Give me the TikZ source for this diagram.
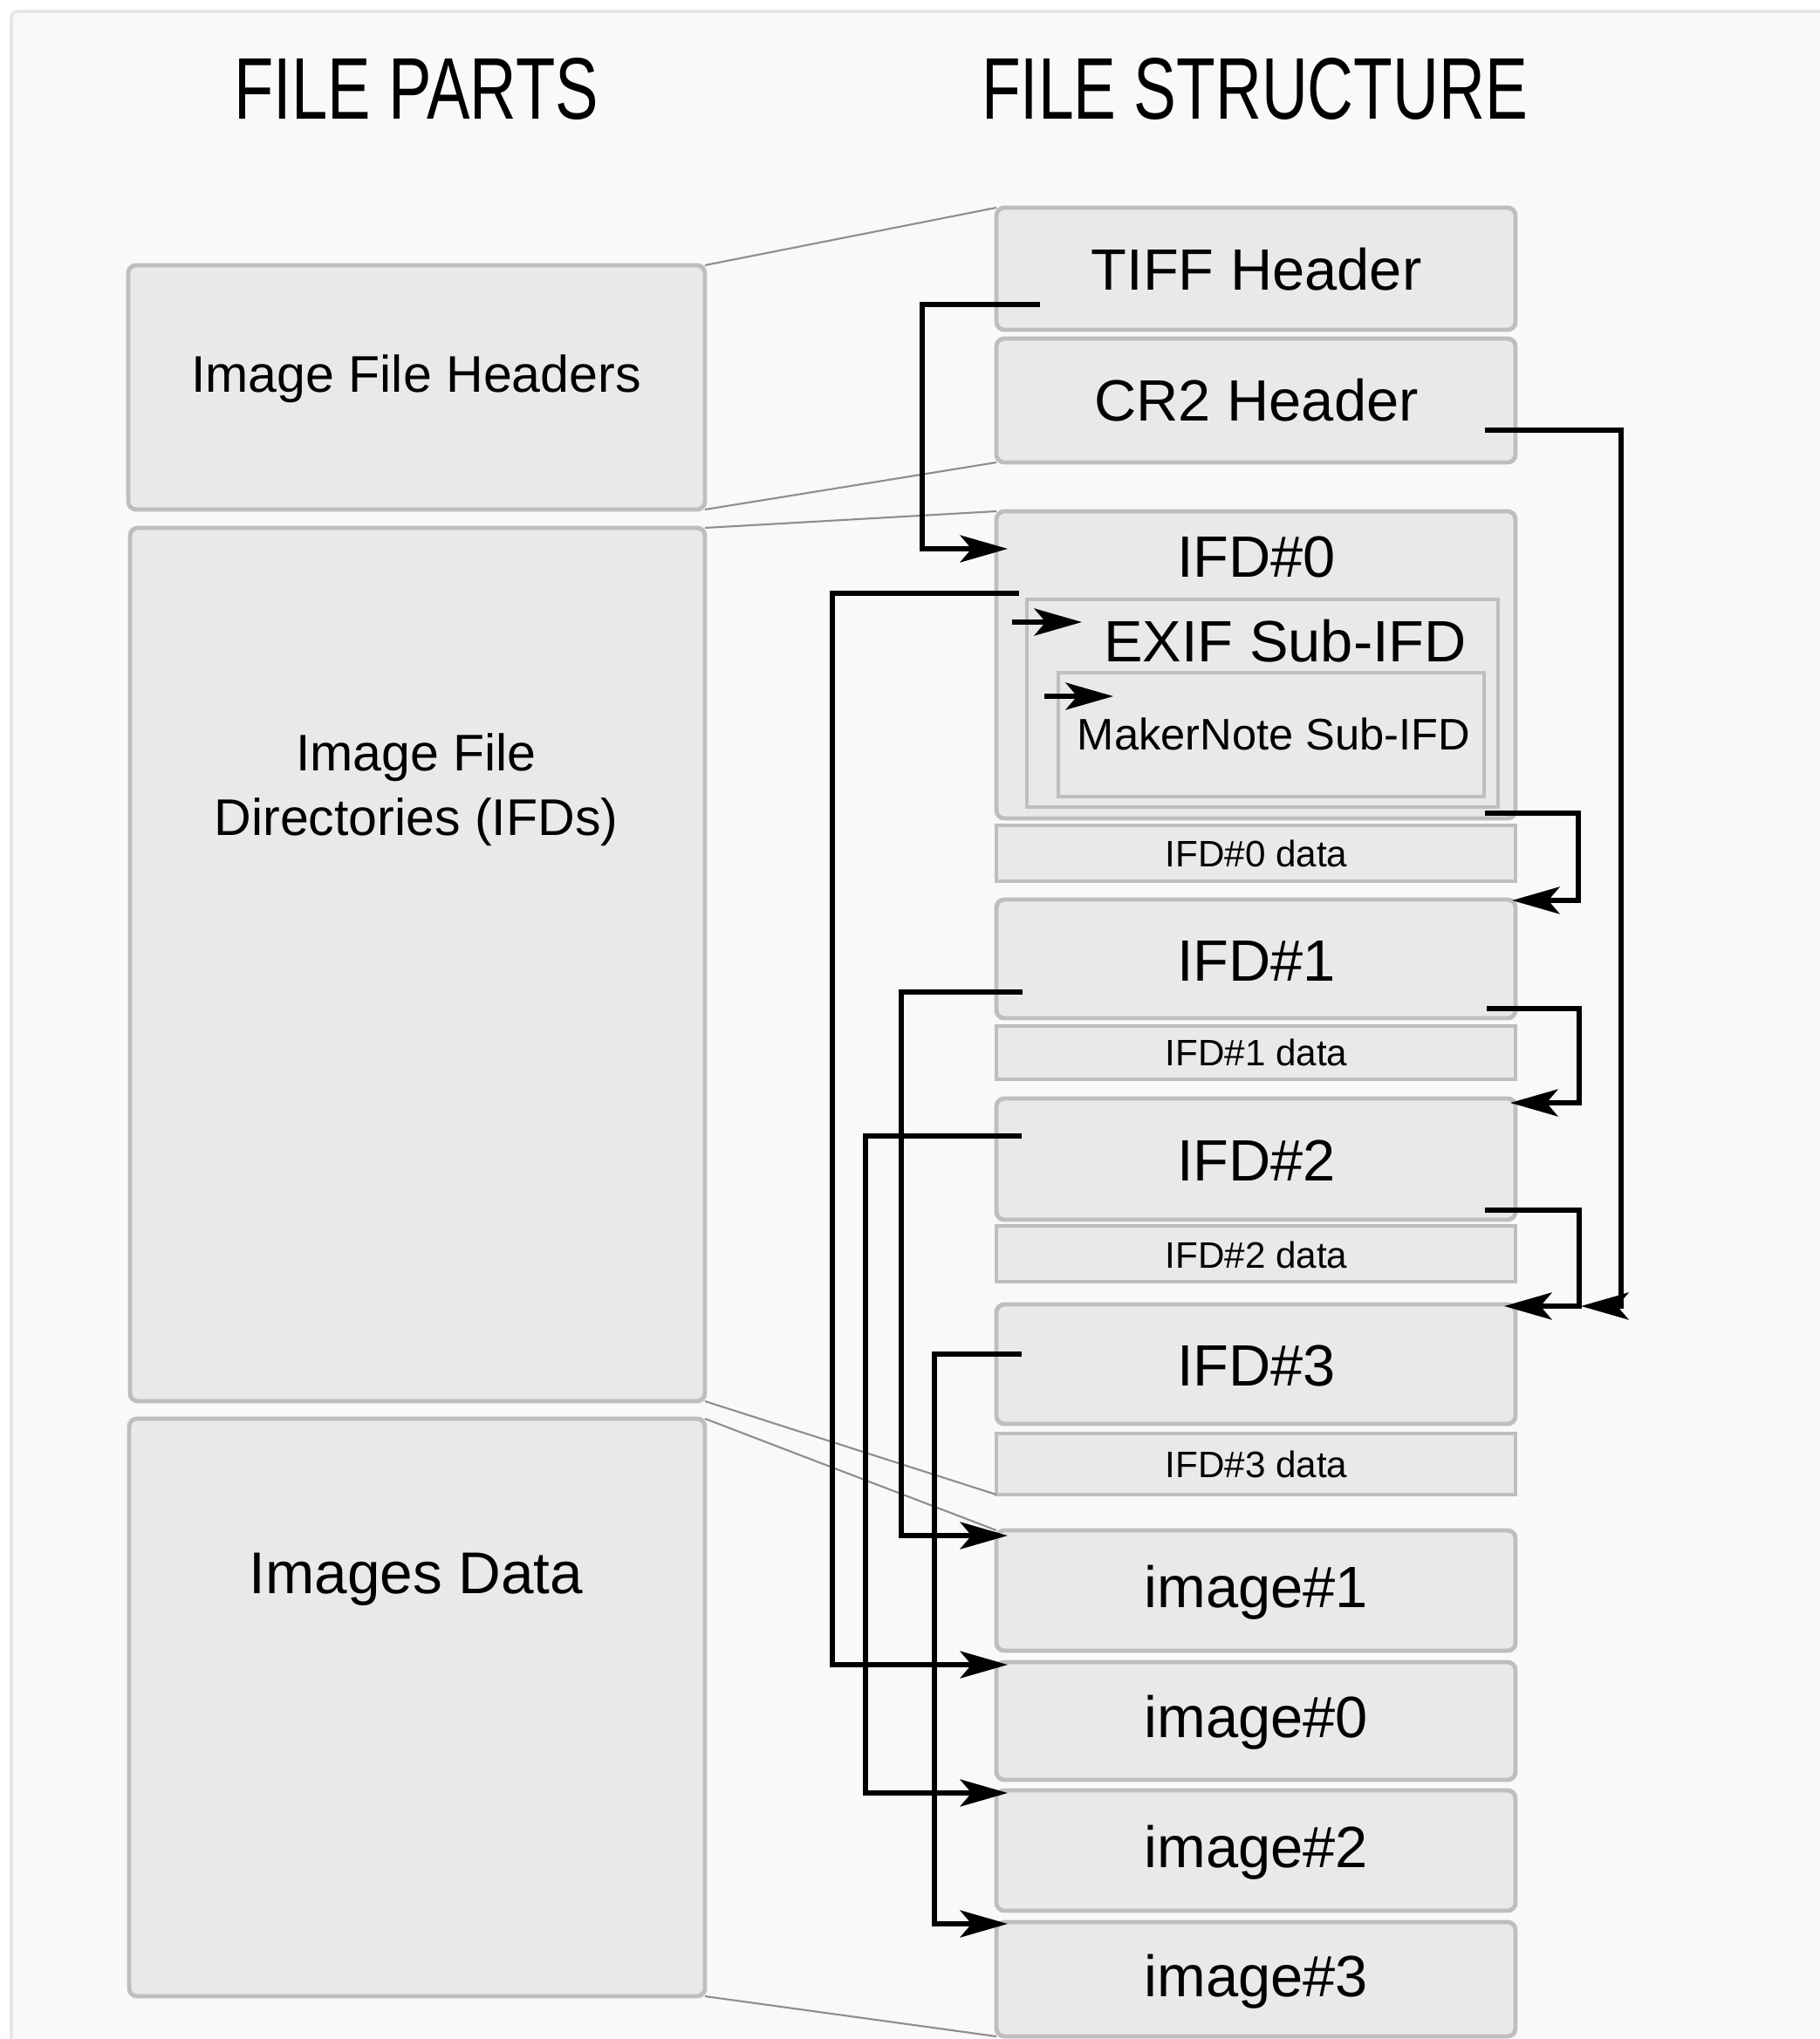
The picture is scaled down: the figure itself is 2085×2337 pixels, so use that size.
\documentclass[tikz,border=0pt]{standalone}
\usepackage{fontspec}
\setmainfont{Liberation Sans}
\usepackage{graphicx}
\usetikzlibrary{arrows.meta,fit}
\definecolor{panelbg}{HTML}{F9F9F9}
\definecolor{panelline}{HTML}{E4E4E4}
\definecolor{boxfill}{HTML}{E9E9E9}
\definecolor{boxline}{HTML}{BEBEBE}
\definecolor{zoomline}{HTML}{8E8E8E}
\begin{document}
\begin{tikzpicture}[x=0.01cm,y=-0.01cm,
  box/.style={draw=boxline, fill=boxfill, line width=1.4pt, rounded corners=2.6pt, inner sep=0pt, outer sep=0pt},
  sqbox/.style={draw=boxline, fill=boxfill, line width=1.4pt, sharp corners, inner sep=0pt, outer sep=0pt},
  lbl/.style={anchor=base, inner sep=0pt, font=\fontsize{19}{23}\selectfont},
  lblleft/.style={anchor=base, inner sep=0pt, font=\fontsize{16.8}{20}\selectfont},
  lblsmall/.style={anchor=base, inner sep=0pt, font=\fontsize{12}{14}\selectfont},
  lblmid/.style={anchor=base, inner sep=0pt, font=\fontsize{14.4}{17}\selectfont},
  heading/.style={anchor=base, inner sep=0pt},
  conn/.style={line width=1.7pt, -{Stealth[length=15.5pt,width=8.8pt,inset=3.7pt]}},
  zoomln/.style={draw=zoomline, line width=0.6pt}
]
\useasboundingbox (0,0) rectangle (2085,2337);
% panel
\path[fill=panelbg, draw=panelline, line width=0.9pt, rounded corners=2pt] (13,13) rectangle (2110,2360);

% headings
\node[heading] (partsT) at (477,137) {\scalebox{0.74}[1]{\fontsize{28.5}{30}\selectfont FILE PARTS}};
\node[heading] (structT) at (1438,137) {\scalebox{0.73}[1]{\fontsize{28.5}{30}\selectfont FILE STRUCTURE}};

% coordinates for box corners
\coordinate (hdrA) at (147,304); \coordinate (hdrB) at (808,584);
\coordinate (ifdLA) at (149,605); \coordinate (ifdLB) at (808,1606);
\coordinate (imgLA) at (148,1626); \coordinate (imgLB) at (808,2288);

% left boxes
\node[box, fit=(hdrA)(hdrB)] (hdr) {};
\node[box, fit=(ifdLA)(ifdLB)] (ifdL) {};
\node[box, fit=(imgLA)(imgLB)] (imgL) {};

% right boxes
\node[box, fit={(1142,238) (1737,378)}] (tiff) {};
\node[box, fit={(1142,388) (1737,530)}] (cr2) {};
\node[box, fit={(1142,586) (1737,938)}] (ifd0) {};
\node[sqbox, fit={(1177,687) (1717,925)}] (exif) {};
\node[sqbox, fit={(1213,771) (1701,913)}] (mkn) {};
\node[sqbox, fit={(1142,946) (1737,1010)}] (d0) {};
\node[box, fit={(1142,1031) (1737,1167)}] (ifd1) {};
\node[sqbox, fit={(1142,1176) (1737,1237)}] (d1) {};
\node[box, fit={(1142,1259) (1737,1398)}] (ifd2) {};
\node[sqbox, fit={(1142,1405) (1737,1469)}] (d2) {};
\node[box, fit={(1142,1495) (1737,1632)}] (ifd3) {};
\node[sqbox, fit={(1142,1643) (1737,1713)}] (d3) {};
\node[box, fit={(1142,1754) (1737,1892)}] (img1) {};
\node[box, fit={(1142,1905) (1737,2040)}] (img0) {};
\node[box, fit={(1142,2052) (1737,2190)}] (img2) {};
\node[box, fit={(1142,2203) (1737,2334)}] (img3) {};

% zoom lines
\draw[zoomln] (hdr.north east) -- (tiff.north west);
\draw[zoomln] (hdr.south east) -- (cr2.south west);
\draw[zoomln] (ifdL.north east) -- (ifd0.north west);
\draw[zoomln] (ifdL.south east) -- (d3.south west);
\draw[zoomln] (imgL.north east) -- (img1.north west);
\draw[zoomln] (imgL.south east) -- (img3.south west);

% left labels
\node[lblleft] (hdrT) at (477,450) {Image File Headers};
\node[lblleft] (ifdT1) at (477,883) {Image File};
\node[lblleft] (ifdT2) at (477,957) {Directories (IFDs)};
\node[lbl, font=\fontsize{19.2}{23}\selectfont] (imgLT) at (477,1826) {Images Data};

% right labels
\node[lbl] (tiffT) at (1440,333) {TIFF Header};
\node[lbl] (cr2T) at (1440,483) {CR2 Header};
\node[lbl] (ifd0T) at (1440,662) {IFD\#0};
\node[lbl] (exifT) at (1473,758) {EXIF Sub-IFD};
\node[lblmid] (mknT) at (1460,859) {MakerNote Sub-IFD};
\node[lblsmall] (d0T) at (1440,993) {IFD\#0 data};
\node[lbl] (ifd1T) at (1440,1124) {IFD\#1};
\node[lblsmall] (d1T) at (1440,1221) {IFD\#1 data};
\node[lbl] (ifd2T) at (1440,1353) {IFD\#2};
\node[lblsmall] (d2T) at (1440,1453) {IFD\#2 data};
\node[lbl] (ifd3T) at (1440,1588) {IFD\#3};
\node[lblsmall] (d3T) at (1440,1693) {IFD\#3 data};
\node[lbl] (img1T) at (1440,1842) {image\#1};
\node[lbl] (img0T) at (1440,1991) {image\#0};
\node[lbl] (img2T) at (1440,2140) {image\#2};
\node[lbl] (img3T) at (1440,2288) {image\#3};

% connector ports
\coordinate (tiffOut) at (1192,349);
\coordinate (ifd0In)  at (1155,629);
\coordinate (cr2Out)  at (1702,493);
\coordinate (ifd0OutR) at (1702,932);
\coordinate (ifd1InR)  at (1733,1032);
\coordinate (ifd1OutR) at (1704,1156);
\coordinate (ifd2InR)  at (1731,1264);
\coordinate (ifd2OutR) at (1702,1387);
\coordinate (ifd3InR)  at (1724,1497);
\coordinate (ifd3Join) at (1812,1497);
\coordinate (ifd0OutL) at (1168,680);
\coordinate (ifd1OutL) at (1172,1137);
\coordinate (ifd2OutL) at (1171,1302);
\coordinate (ifd3OutL) at (1171,1552);
\coordinate (img1In) at (1155,1760);
\coordinate (img0In) at (1155,1908);
\coordinate (img2In) at (1155,2055);
\coordinate (img3In) at (1155,2205);
\coordinate (exifFrom) at (1160,713);
\coordinate (exifIn) at (1240,713);
\coordinate (mknFrom) at (1197,798);
\coordinate (mknIn) at (1276,798);

% connectors
\draw[conn] (tiffOut) -- (1057,349) |- (ifd0In);
\draw[conn] (exifFrom) -- (exifIn);
\draw[conn] (mknFrom) -- (mknIn);
\draw[conn] (ifd0OutR) -- (1809,932) |- (ifd1InR);
\draw[conn] (ifd1OutR) -- (1810,1156) |- (ifd2InR);
\draw[conn] (ifd2OutR) -- (1810,1387) |- (ifd3InR);
\draw[conn] (cr2Out) -- (1858,493) |- (ifd3Join);
\draw[conn] (ifd0OutL) -- (954,680) |- (img0In);
\draw[conn] (ifd1OutL) -- (1033,1137) |- (img1In);
\draw[conn] (ifd2OutL) -- (992,1302) |- (img2In);
\draw[conn] (ifd3OutL) -- (1071,1552) |- (img3In);
\end{tikzpicture}
\end{document}
